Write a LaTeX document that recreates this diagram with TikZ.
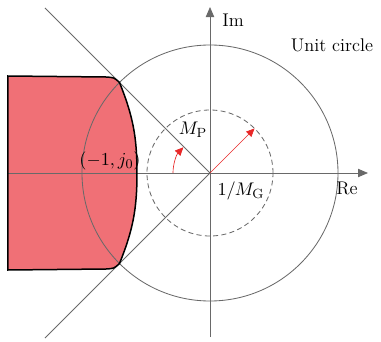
\documentclass[tikz,border=0pt]{standalone}
\usepackage{amsmath}
\usepackage{tikz}
\usetikzlibrary{arrows.meta, positioning, calc}
\definecolor{regionred}{RGB}{240,112,118}
\definecolor{guidegray}{RGB}{105,105,105}
\definecolor{arrowred}{RGB}{232,40,40}

\begin{document}
\begin{tikzpicture}[x=0.6pt, y=0.6pt, font=\fontsize{11}{13}\selectfont,
    axis/.style={guidegray, line width=0.5pt, -{Triangle[length=6pt, width=5pt]}},
    guide/.style={guidegray, line width=0.5pt},
    redarrow/.style={arrowred, line width=0.4pt, -{Triangle[length=5pt, width=4.5pt]}}]
  \useasboundingbox (-210,-168) rectangle (171,173);
  % stability region
  \fill[regionred] (-202,97) -- (-104,96) .. controls (-96,95.5) .. (-90.5,90.5)
    to[out=-68, in=90] (-73,0) to[out=-90, in=68] (-90.5,-90.5)
    .. controls (-96,-95.5) .. (-104,-96) -- (-202,-97) -- cycle;
  % circles and guide lines
  \coordinate (O) at (0,0);
  \draw[guide] (O) circle (128);
  \draw[guide, dashed, dash pattern=on 3pt off 2pt] (O) circle (63);
  \coordinate (ul) at (-165,165);
  \coordinate (ll) at (-165,-165);
  \draw[guide] (O) -- (ul);
  \draw[guide] (O) -- (ll);
  % axes
  \coordinate (xl) at (-202,0);
  \coordinate (xr) at (158,0);
  \coordinate (yb) at (0,-164);
  \coordinate (yt) at (0,166);
  \draw[axis] (xl) -- (xr);
  \draw[axis] (yb) -- (yt);
  % region outline
  \draw[black, line width=0.9pt] (-202,97) -- (-104,96) .. controls (-96,95.5) .. (-90.5,90.5)
    to[out=-68, in=90] (-73,0) to[out=-90, in=68] (-90.5,-90.5)
    .. controls (-96,-95.5) .. (-104,-96) -- (-202,-97) -- cycle;
  % margins
  \coordinate (mg) at (45:63);
  \draw[redarrow] (O) -- (mg);
  \coordinate (pa) at (180:37);
  \draw[redarrow] (pa) arc[start angle=180, end angle=136, radius=37];
  % labels
  \node (im) at (23,153) {Im};
  \node (uc) at (122,128) {Unit circle};
  \node (re) at (137,-15) {Re};
  \node (mp) at (-17,43) {$M_{\mathrm{P}}$};
  \node (mgl) at (31,-18) {$1/M_{\mathrm{G}}$};
  \node (pt) at (-100,12) {$(-1,j_0)$};
\end{tikzpicture}
\end{document}
